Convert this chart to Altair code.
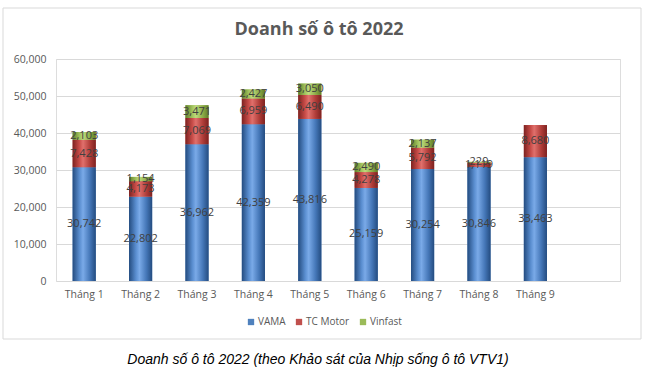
import altair as alt
import pandas as pd

months = ["Tháng 1", "Tháng 2", "Tháng 3", "Tháng 4", "Tháng 5",
          "Tháng 6", "Tháng 7", "Tháng 8", "Tháng 9"]
series = ["VAMA", "TC Motor", "Vinfast"]
vama = [30742, 22802, 36962, 42359, 43816, 25159, 30254, 30846, 33463]
tc_motor = [7428, 4173, 7069, 6959, 6490, 4278, 5792, 1119, 8680]
vinfast = [2103, 1154, 3471, 2427, 3050, 2490, 2137, 229, None]
y_ticks = [0, 10000, 20000, 30000, 40000, 50000, 60000]
colors = ["#4F81BD", "#C0504D", "#9BBB59"]
title_text = "Doanh số ô tô 2022"
caption_text = "Doanh số ô tô 2022 (theo Khảo sát của Nhịp sống ô tô VTV1)"

rows = []
for si, (name, vals) in enumerate(zip(series, [vama, tc_motor, vinfast])):
    for m, v in zip(months, vals):
        if v is not None:
            rows.append({"month": m, "series": name, "ord": si, "value": v})
df = pd.DataFrame(rows)

FONT = "Open Sans"
GRAY = "#595959"

x_enc = alt.X(
    "month:N",
    scale=alt.Scale(domain=months + [" "], paddingInner=0.59, paddingOuter=0.295),
    axis=alt.Axis(title=None, labelAngle=0, domain=False, ticks=False,
                  labelPadding=8, labelFont=FONT, labelFontSize=10.5,
                  labelColor=GRAY, grid=False),
)
y_scale = alt.Scale(domain=[0, 60000], nice=False)
y_axis = alt.Axis(values=y_ticks, format=",.0f", title=None, domain=False,
                  ticks=False, gridColor="#d9d9d9", labelPadding=10,
                  labelFont=FONT, labelFontSize=10.5, labelColor=GRAY)
y_enc = alt.Y("y0:Q", scale=y_scale, axis=y_axis)

base = alt.Chart(df).transform_stack(
    stack="value", groupby=["month"], sort=[alt.SortField("ord")], as_=["y0", "y1"]
).transform_calculate(mid="(datum.y0 + datum.y1) / 2")

bars = base.mark_bar().encode(
    x=x_enc, y=y_enc, y2="y1:Q",
    color=alt.Color(
        "series:N", scale=alt.Scale(domain=series, range=colors),
        legend=alt.Legend(title=None, orient="none", legendX=190, legendY=258,
                          direction="horizontal", symbolType="square",
                          symbolSize=40, labelFont=FONT, labelFontSize=10,
                          labelColor=GRAY, columnPadding=8, labelOffset=2),
    ),
)

grads = {
    "VAMA": ["#244c80", "#5a8ed0", "#7aaae8", "#4577b8", "#244c80"],
    "TC Motor": ["#7d2220", "#c94d49", "#e0706c", "#b03d39", "#7d2220"],
    "Vinfast": ["#5f7c28", "#a2c45f", "#bedb7c", "#8dac48", "#5f7c28"],
}
offs = [0, 0.3, 0.45, 0.75, 1]
overlays = []
for name in series:
    stops = [alt.GradientStop(offset=o, color=c) for o, c in zip(offs, grads[name])]
    overlays.append(
        base.transform_filter(alt.datum.series == name).mark_bar(
            fill=alt.Gradient(gradient="linear", stops=stops, x1=0, x2=1, y1=0, y2=0)
        ).encode(x=x_enc, y=y_enc, y2="y1:Q")
    )

labels = base.mark_text(font=FONT, fontSize=11, color="#404040").encode(
    x=x_enc, y=alt.Y("mid:Q", scale=y_scale, axis=y_axis),
    text=alt.Text("value:Q", format=",.0f")
)

one = alt.Chart(pd.DataFrame({"a": [0]}))
frame = one.mark_rect(fill=None, stroke="#d9d9d9", strokeWidth=1).encode(
    x=alt.value(-53), x2=alt.value(585), y=alt.value(-51), y2=alt.value(280)
)
title = one.mark_text(font=FONT, fontSize=18, fontWeight="bold", color=GRAY).encode(
    x=alt.value(263), y=alt.value(-29), text=alt.value(title_text)
)
caption = one.mark_text(font="Liberation Sans", fontSize=14, fontStyle="italic",
                        color="#000000").encode(
    x=alt.value(262), y=alt.value(301), text=alt.value(caption_text)
)

chart = alt.layer(frame, bars, *overlays, labels, title, caption).properties(
    width=564, height=222,
    autosize=alt.AutoSizeParams(type="none"),
    padding={"left": 56, "top": 59, "right": 27, "bottom": 96},
).configure_view(strokeWidth=0).configure(background="white")

chart.save("out.html", embed_options={"renderer": "svg", "actions": False})
